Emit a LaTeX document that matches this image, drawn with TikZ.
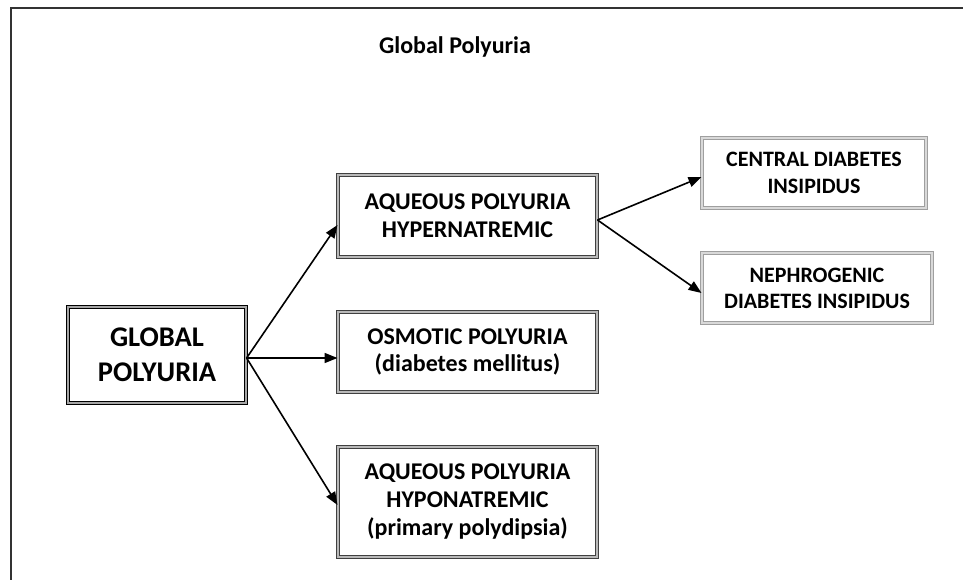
\documentclass[tikz,border=0pt]{standalone}
\usepackage{fontspec}
\setmainfont{Carlito}
\usetikzlibrary{arrows.meta}
\tikzset{
  box/.style={rectangle, draw=black!75, line width=1pt, double=gray!55, double distance=1.6pt, fill=white, align=center, font=\bfseries, inner sep=0pt},
  mainbox/.style={box, draw=black, double=gray!70, line width=1.2pt, double distance=1.8pt},
  lightbox/.style={box, draw=gray!75, double=gray!30},
  conn/.style={line width=1.6pt, -{Triangle[length=13pt,width=10pt]}},
  frameline/.style={line width=1.8pt, draw=black!80}
}
\begin{document}
\begin{tikzpicture}[x=1pt,y=-1pt]
\useasboundingbox (0,0) rectangle (963,580);
\coordinate (fa) at (11,580);
\coordinate (fb) at (11,8);
\coordinate (fc) at (963,8);
\draw[frameline] (fa) -- (fb) -- (fc);
\node[font=\bfseries\fontsize{24}{28}\selectfont] (title) at (455,47) {Global Polyuria};
\node[mainbox, minimum width=178pt, minimum height=96pt, font=\bfseries\fontsize{28.5}{35}\selectfont] (G) at (157,355) {GLOBAL\\POLYURIA};
\node[box, minimum width=259pt, minimum height=82pt, font=\bfseries\fontsize{24}{28}\selectfont] (B1) at (467.5,216) {AQUEOUS POLYURIA\\HYPERNATREMIC};
\node[box, minimum width=259pt, minimum height=80pt, font=\bfseries\fontsize{24}{27}\selectfont] (B2) at (467.5,352) {OSMOTIC POLYURIA\\(diabetes mellitus)};
\node[box, minimum width=259pt, minimum height=110pt, font=\bfseries\fontsize{24}{28}\selectfont] (B3) at (467.5,502) {AQUEOUS POLYURIA\\HYPONATREMIC\\(primary polydipsia)};
\node[lightbox, minimum width=224pt, minimum height=70pt, font=\bfseries\fontsize{22}{27}\selectfont] (C) at (814,173) {CENTRAL DIABETES\\INSIPIDUS};
\node[lightbox, minimum width=230pt, minimum height=70pt, font=\bfseries\fontsize{22}{26}\selectfont] (N) at (817,288) {NEPHROGENIC\\DIABETES INSIPIDUS};
\coordinate (gs) at ([yshift=-3pt]G.east);
\coordinate (bs) at ([yshift=-4pt]B1.east);
\draw[conn] (gs) -- ([yshift=-9pt]B1.west);
\draw[conn] (gs) -- ([yshift=-6pt]B2.west);
\draw[conn] (gs) -- ([yshift=-3pt]B3.west);
\draw[conn] (bs) -- ([yshift=-4pt]C.west);
\draw[conn] (bs) -- ([yshift=-5pt]N.west);
\end{tikzpicture}
\end{document}
